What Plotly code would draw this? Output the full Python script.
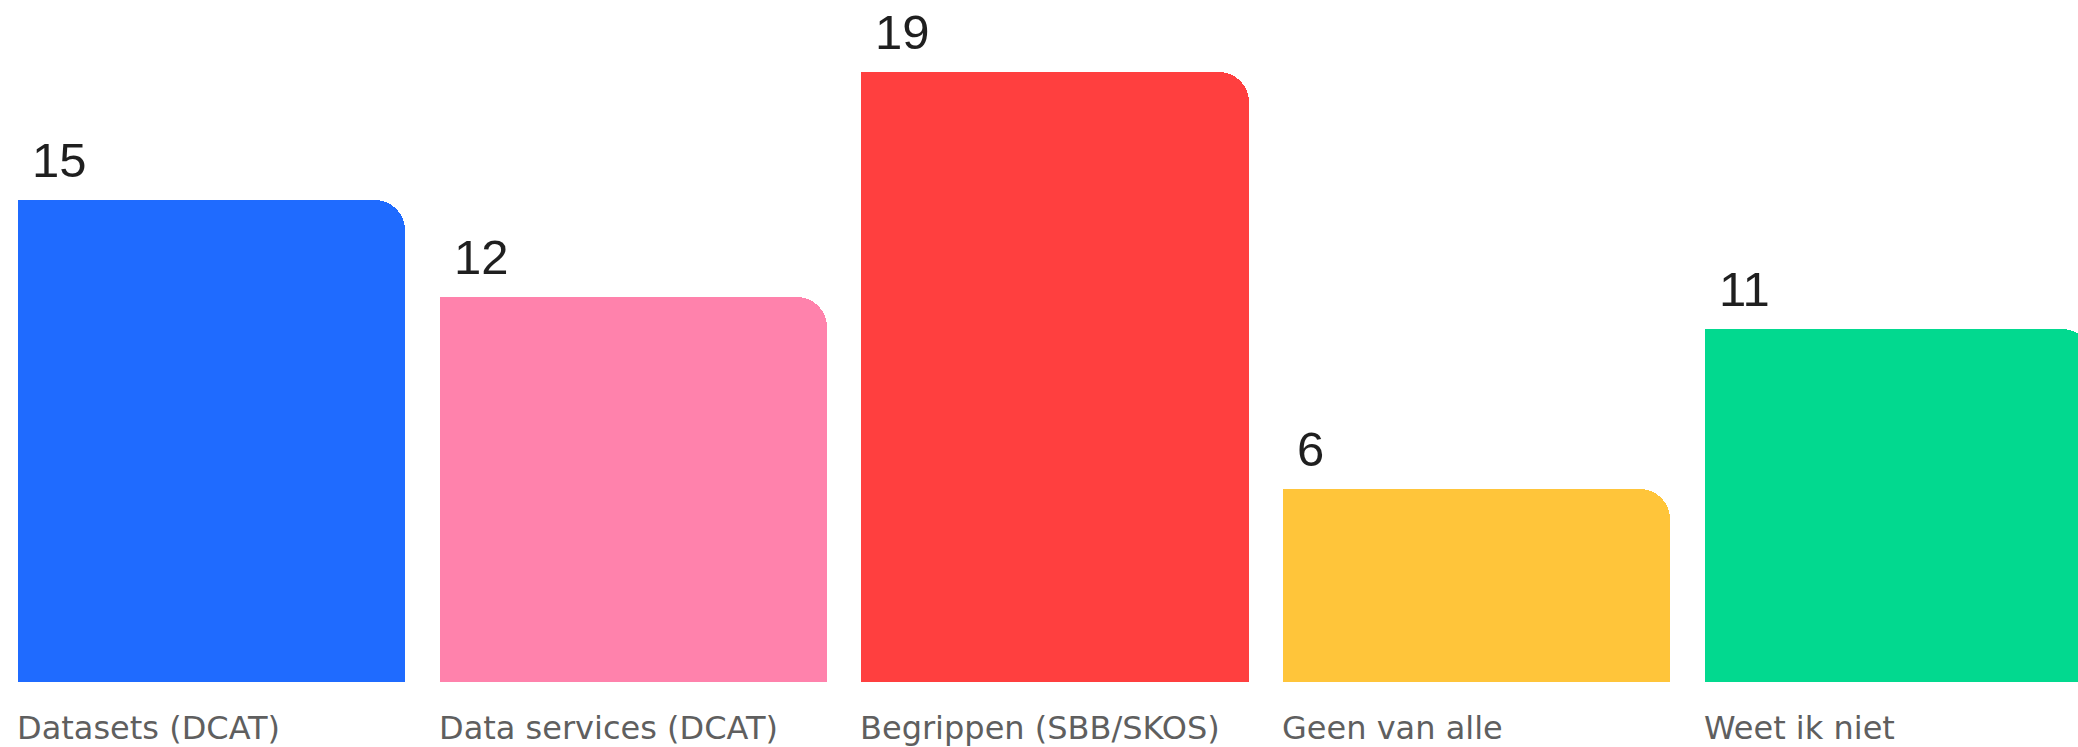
import plotly.graph_objects as go

categories = ["Datasets (DCAT)", "Data services (DCAT)", "Begrippen (SBB/SKOS)", "Geen van alle", "Weet ik niet"]
values = [15, 12, 19, 6, 11]
colors = ["#1F6BFF", "#FF82AC", "#FF3F3F", "#FFC53A", "#02D98F"]

BAR_W = 0.918
idx = list(range(len(categories)))

fig = go.Figure()
# full bar with rounded top corners
fig.add_trace(go.Bar(
    x=idx, y=values, width=BAR_W,
    marker=dict(color=colors, cornerradius=30, line=dict(width=0)),
    hoverinfo="skip", showlegend=False,
))
# left half with square corners (so only top-right corner is rounded)
fig.add_trace(go.Bar(
    x=idx, y=values, width=BAR_W / 2,
    offset=-BAR_W / 2,
    marker=dict(color=colors, cornerradius=0, line=dict(width=0)),
    hoverinfo="skip", showlegend=False,
))

for i, (c, v) in enumerate(zip(categories, values)):
    fig.add_annotation(
        x=i - BAR_W / 2, y=v, xref="x", yref="y",
        text=str(v), showarrow=False, xanchor="left", yanchor="bottom",
        xshift=12, yshift=11,
        font=dict(family="Liberation Sans, Arial, sans-serif", size=49, color="#1f1f1f"),
    )
    fig.add_annotation(
        x=i - BAR_W / 2, y=0, xref="x", yref="paper",
        text=c, showarrow=False, xanchor="left", yanchor="top",
        xshift=-3, yshift=-25,
        font=dict(family="DejaVu Sans, Open Sans, sans-serif", size=32, color="#5f5f5f"),
    )

fig.update_layout(
    width=2078, height=747,
    margin=dict(l=0, r=0, t=0, b=65),
    paper_bgcolor="white", plot_bgcolor="white",
    barmode="overlay", bargap=0,
    xaxis=dict(range=[-0.5015, 4.4256], visible=False, fixedrange=True),
    yaxis=dict(range=[0, 21.23], visible=False, fixedrange=True),
)

fig.write_html(
    "out.html",
    config={"displayModeBar": False},
    post_script="document.body.style.margin='0';document.body.style.overflow='hidden';",
)
